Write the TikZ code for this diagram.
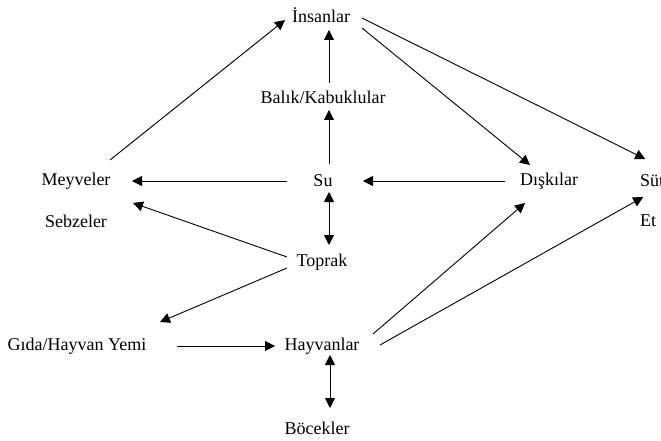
\documentclass[tikz,border=0pt]{standalone}
\usepackage{fontspec}
\setmainfont{Liberation Serif}
\usetikzlibrary{arrows.meta,calc}
\begin{document}
\begin{tikzpicture}[x=1pt,y=-1pt,
  lbl/.style={font=\fontsize{18}{21}\selectfont, inner sep=0pt, anchor=center},
  arr/.style={-{Triangle[length=10pt,width=10pt]}, line width=0.9pt},
  darr/.style={{Triangle[length=10pt,width=10pt]}-{Triangle[length=10pt,width=10pt]}, line width=0.9pt}]
\fill[white] (0,0) rectangle (661,441);
\useasboundingbox (0,0) rectangle (661,441);
\node[lbl] (insanlar) at (321,15) {İnsanlar};
\node[lbl] (balik) at (323,97) {Balık/Kabuklular};
\node[lbl] (su) at (323,181) {Su};
\node[lbl] (meyveler) at (76,181) {Meyveler};
\node[lbl] (sebzeler) at (76,221) {Sebzeler};
\node[lbl] (diskilar) at (549,181) {Dışkılar};
\node[lbl, anchor=west] (sut) at (640,181) {Süt};
\node[lbl, anchor=west] (et) at (640,221) {Et};
\node[lbl] (toprak) at (322,262) {Toprak};
\node[lbl] (gida) at (77,346) {Gıda/Hayvan Yemi};
\node[lbl] (hayvanlar) at (322,346) {Hayvanlar};
\node[lbl] (bocekler) at (317,428) {Böcekler};

\draw[arr] ($(meyveler)+(34,-21)$) -- ($(insanlar)+(-36,5)$);
\draw[arr] ($(balik)+(6,-14)$) -- ($(insanlar)+(8,15)$);
\draw[arr] ($(su)+(6,-17)$) -- ($(balik)+(6,13)$);
\draw[arr] ($(insanlar)+(41,3)$) -- ($(sut)+(-7,-22)$);
\draw[arr] ($(insanlar)+(41,13)$) -- ($(diskilar)+(-19,-16)$);
\draw[arr] ($(su)+(-36,0)$) -- ($(meyveler)+(56,0)$);
\draw[arr] ($(diskilar)+(-44,0)$) -- ($(su)+(40,0)$);
\draw[darr] ($(su)+(6,11)$) -- ($(toprak)+(7,-17)$);
\draw[arr] ($(toprak)+(-35,-5)$) -- ($(sebzeler)+(57,-18)$);
\draw[arr] ($(toprak)+(-35,6)$) -- ($(gida)+(83,-24)$);
\draw[arr] ($(gida)+(100,0)$) -- ($(hayvanlar)+(-47,0)$);
\draw[darr] ($(hayvanlar)+(8,9)$) -- ($(bocekler)+(13,-20)$);
\draw[arr] ($(hayvanlar)+(51,-12)$) -- ($(diskilar)+(-24,22)$);
\draw[arr] ($(hayvanlar)+(58,-1)$) -- ($(et)+(-5,-24)$);
\end{tikzpicture}
\end{document}
